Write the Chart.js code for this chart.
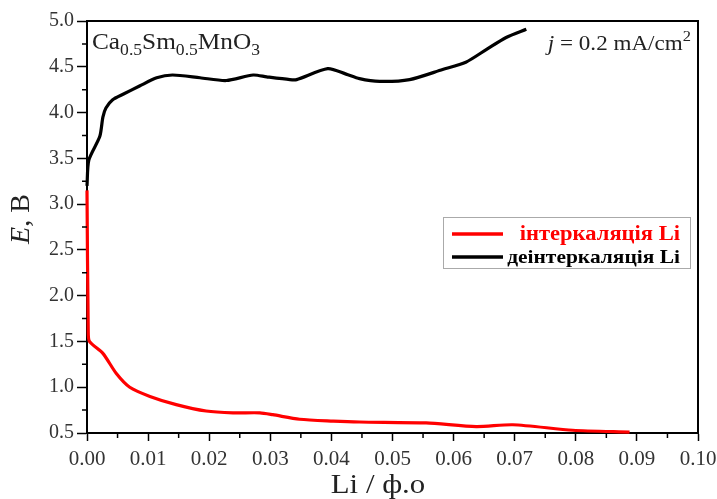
<!DOCTYPE html>
<html>
<head>
<meta charset="utf-8">
<script src="https://cdn.jsdelivr.net/npm/chart.js@4.4.1/dist/chart.umd.min.js"></script>
<style>
  html, body { margin: 0; padding: 0; background: #fff; }
  #wrap { width: 717px; height: 499px; }
</style>
</head>
<body>
<div id="wrap"><canvas id="c" width="717" height="499"></canvas></div>
<script>
// ---- data ----
const intercalX = [0, 0.0002, 0.0004, 0.0026, 0.0048, 0.007, 0.0103, 0.0146, 0.0195, 0.0239, 0.0283, 0.0304, 0.0348, 0.0403, 0.0446, 0.0555, 0.0637, 0.0697, 0.0795, 0.0888];
const intercalE = [3.15, 1.62, 1.50, 1.37, 1.15, 1.00, 0.90, 0.81, 0.74, 0.72, 0.72, 0.70, 0.65, 0.63, 0.62, 0.61, 0.57, 0.59, 0.53, 0.51];

const deintercalX = [0, 0.0003, 0.0021, 0.0026, 0.0031, 0.0042, 0.0059, 0.0086, 0.0114, 0.014, 0.0185, 0.0228, 0.0272, 0.0294, 0.0332, 0.0343, 0.0394, 0.0424, 0.0446, 0.0479, 0.0528, 0.0582, 0.062, 0.0654, 0.0686, 0.0719];
const deintercalE = [3.20, 3.48, 3.74, 3.95, 4.05, 4.14, 4.20, 4.29, 4.38, 4.41, 4.38, 4.35, 4.41, 4.39, 4.36, 4.36, 4.48, 4.42, 4.37, 4.34, 4.36, 4.47, 4.55, 4.69, 4.82, 4.91];

const seriesLabels = ['інтеркаляція Li', 'деінтеркаляція Li'];
const xTickStep = 0.01, yTickStep = 0.5;
const xMin = 0, xMax = 0.10, yMin = 0.5, yMax = 5.0;

const SERIF = '"Liberation Serif", "DejaVu Serif", serif';
const SX = 1.1; // horizontal stretch seen in the reference text

function toPoints(xs, ys) { return xs.map((x, i) => ({ x: x, y: ys[i] })); }

function runsWidth(ctx, runs, sx) {
  let w = 0;
  for (const r of runs) { ctx.font = r.font; w += ctx.measureText(r.t).width; }
  return w * (sx || 1);
}
function drawRuns(ctx, runs, x, y, sx) {
  ctx.save();
  ctx.translate(x, y);
  ctx.scale(sx || 1, 1);
  let cx = 0;
  for (const r of runs) {
    ctx.font = r.font;
    ctx.fillText(r.t, cx, r.dy || 0);
    cx += ctx.measureText(r.t).width;
  }
  ctx.restore();
}

const decor = {
  id: 'decor',
  afterDraw(chart) {
    const ctx = chart.ctx;
    const a = chart.chartArea;
    const xs = chart.scales.x, ys = chart.scales.y;
    ctx.save();
    // frame top/right
    ctx.strokeStyle = '#000';
    ctx.lineWidth = 2;
    ctx.beginPath();
    ctx.moveTo(a.left, a.top); ctx.lineTo(a.right, a.top); ctx.lineTo(a.right, a.bottom);
    ctx.stroke();
    // minor ticks
    ctx.lineWidth = 1.5;
    ctx.beginPath();
    for (let v = xMin + xTickStep / 2; v < xMax; v += xTickStep) {
      const p = xs.getPixelForValue(v);
      ctx.moveTo(p, a.bottom); ctx.lineTo(p, a.bottom + 5);
    }
    for (let v = yMin + yTickStep / 2; v < yMax; v += yTickStep) {
      const p = ys.getPixelForValue(v);
      ctx.moveTo(a.left - 5, p); ctx.lineTo(a.left, p);
    }
    ctx.stroke();

    ctx.fillStyle = '#222';
    ctx.textBaseline = 'alphabetic';
    ctx.textAlign = 'left';
    // compound label
    drawRuns(ctx, [
      { t: 'Ca', font: '23px ' + SERIF },
      { t: '0.5', font: '16px ' + SERIF, dy: 6 },
      { t: 'Sm', font: '23px ' + SERIF },
      { t: '0.5', font: '16px ' + SERIF, dy: 6 },
      { t: 'MnO', font: '23px ' + SERIF },
      { t: '3', font: '16px ' + SERIF, dy: 6 }
    ], a.left + 5, a.top + 28, SX);
    // current density label
    const jr = [
      { t: 'j', font: 'italic 21px ' + SERIF },
      { t: ' = 0.2 mA/cm', font: '21px ' + SERIF },
      { t: '2', font: '15px ' + SERIF, dy: -9 }
    ];
    drawRuns(ctx, jr, a.right - 7 - runsWidth(ctx, jr, SX), a.top + 29, SX);

    // legend
    const lx0 = 443, ly0 = 217, lx1 = 690, ly1 = 268;
    ctx.fillStyle = '#fff';
    ctx.fillRect(lx0, ly0, lx1 - lx0, ly1 - ly0);
    ctx.strokeStyle = '#aaa';
    ctx.lineWidth = 1;
    ctx.strokeRect(lx0 + 0.5, ly0 + 0.5, lx1 - lx0, ly1 - ly0);
    const rows = [234, 257];
    const legendFont = [20.5, 19.5];
    chart.data.datasets.forEach((ds, i) => {
      const yy = rows[i];
      ctx.strokeStyle = ds.borderColor;
      ctx.lineWidth = 3.5;
      ctx.beginPath(); ctx.moveTo(452, yy); ctx.lineTo(503, yy); ctx.stroke();
      ctx.fillStyle = ds.borderColor;
      ctx.textBaseline = 'middle';
      const lr = [{ t: ds.label, font: 'bold ' + legendFont[i] + 'px ' + SERIF }];
      drawRuns(ctx, lr, 680 - runsWidth(ctx, lr, SX), yy + 1, SX);
    });

    // axis titles
    ctx.fillStyle = '#222';
    ctx.textBaseline = 'alphabetic';
    const xr = [{ t: 'Li / ф.о', font: '28px ' + SERIF }];
    drawRuns(ctx, xr, 378 - runsWidth(ctx, xr, SX) / 2, 493, SX);

    ctx.save();
    ctx.translate(29, 219);
    ctx.rotate(-Math.PI / 2);
    const yr = [
      { t: 'E', font: 'italic 28px ' + SERIF },
      { t: ', В', font: '28px ' + SERIF }
    ];
    drawRuns(ctx, yr, -runsWidth(ctx, yr, 1) / 2, 0, 1);
    ctx.restore();

    ctx.restore();
  }
};

new Chart(document.getElementById('c'), {
  type: 'line',
  data: {
    datasets: [
      { label: seriesLabels[0], data: toPoints(intercalX, intercalE), borderColor: '#ff0000', borderWidth: 3.2, pointRadius: 0, tension: 0.25, fill: false, clip: false },
      { label: seriesLabels[1], data: toPoints(deintercalX, deintercalE), borderColor: '#000000', borderWidth: 3.2, pointRadius: 0, tension: 0.25, fill: false, clip: false }
    ]
  },
  options: {
    responsive: false,
    animation: false,
    devicePixelRatio: 1,
    layout: { padding: { top: 21, right: 19, left: 0, bottom: 0 } },
    plugins: { legend: { display: false }, tooltip: { enabled: false } },
    scales: {
      x: {
        type: 'linear', min: xMin, max: xMax,
        afterFit(s) { s.height = 66; s.paddingLeft = 0; s.paddingRight = 0; },
        ticks: { stepSize: xTickStep, padding: 6, color: '#333', font: { family: SERIF, size: 21 }, maxRotation: 0, callback: v => v.toFixed(2) },
        grid: { drawOnChartArea: false, drawTicks: true, tickLength: 8, tickWidth: 1.5, tickColor: '#000' },
        border: { color: '#000', width: 2 }
      },
      y: {
        type: 'linear', min: yMin, max: yMax,
        afterFit(s) { s.width = 87; s.paddingTop = 0; s.paddingBottom = 0; },
        ticks: { stepSize: yTickStep, padding: 3, color: '#333', font: { family: SERIF, size: 20 }, callback: v => v.toFixed(1) },
        grid: { drawOnChartArea: false, drawTicks: true, tickLength: 10, tickWidth: 1.5, tickColor: '#000' },
        border: { color: '#000', width: 2 }
      }
    }
  },
  plugins: [decor]
});
</script>
</body>
</html>
